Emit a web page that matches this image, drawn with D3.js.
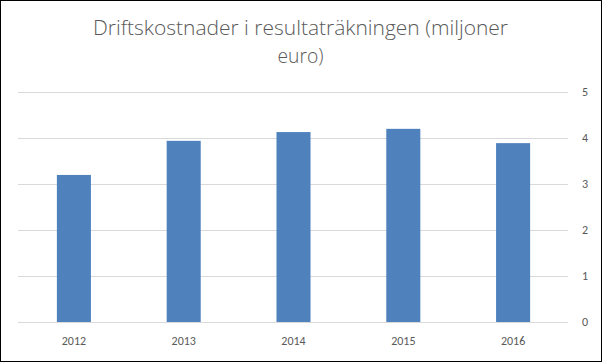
<!DOCTYPE html>
<html>
<head>
<meta charset="utf-8">
<script src="https://cdn.jsdelivr.net/npm/d3@7"></script>
<style>
  body { margin: 0; background: #fff; }
  svg { display: block; }
</style>
</head>
<body>
<div id="chart"></div>
<script>
const years = ["2012", "2013", "2014", "2015", "2016"];
const values = [3.19, 3.93, 4.12, 4.19, 3.88];
const yTicks = [0, 1, 2, 3, 4, 5];
const titleLines = ["Driftskostnader i resultaträkningen (miljoner", "euro)"];

const width = 603, height = 363;
const plot = { left: 19, right: 568, top: 91.5, bottom: 322 };

const svg = d3.select("#chart")
    .append("svg")
    .attr("width", width)
    .attr("height", height);

svg.append("rect")
    .attr("x", 0.5).attr("y", 0.5)
    .attr("width", width - 2).attr("height", height - 2)
    .attr("fill", "#fff")
    .attr("stroke", "#000")
    .attr("stroke-width", 1);

const x = d3.scaleBand()
    .domain(years)
    .range([plot.left, plot.right])
    .paddingInner(0.69)
    .paddingOuter(0.345);

const y = d3.scaleLinear()
    .domain([0, 5])
    .range([plot.bottom, plot.top]);

// gridlines
svg.append("g")
    .selectAll("line")
    .data(yTicks)
    .enter().append("line")
    .attr("x1", plot.left - 1)
    .attr("x2", plot.right)
    .attr("y1", d => Math.round(y(d)) + 0.5)
    .attr("y2", d => Math.round(y(d)) + 0.5)
    .attr("stroke", "#d9d9d9")
    .attr("stroke-width", 1);

// bars
svg.append("g")
    .selectAll("rect")
    .data(values)
    .enter().append("rect")
    .attr("x", (d, i) => x(years[i]))
    .attr("y", d => y(d))
    .attr("width", x.bandwidth())
    .attr("height", d => y(0) - y(d))
    .attr("fill", "#4f81bd");

// right value axis
const yAxis = svg.append("g")
    .attr("transform", `translate(${plot.right + 17},0)`)
    .call(d3.axisRight(y).tickValues(yTicks).tickFormat(d3.format("d")).tickSize(0).tickPadding(0));
yAxis.select(".domain").remove();
yAxis.selectAll("text")
    .attr("text-anchor", "middle")
    .attr("font-family", "Calibri, 'Open Sans', sans-serif")
    .attr("font-size", 12)
    .attr("fill", "#595959");

// category axis
const xAxis = svg.append("g")
    .attr("transform", `translate(0,${plot.bottom})`)
    .call(d3.axisBottom(x).tickSize(0).tickPadding(14));
xAxis.select(".domain").remove();
xAxis.selectAll("text")
    .attr("font-family", "Calibri, 'Open Sans', sans-serif")
    .attr("font-size", 12)
    .attr("fill", "#595959");

// title
svg.append("g")
    .selectAll("text")
    .data(titleLines)
    .enter().append("text")
    .attr("x", 300.5)
    .attr("y", (d, i) => 35 + i * 28)
    .attr("text-anchor", "middle")
    .attr("font-family", "'Calibri Light', 'Open Sans', sans-serif")
    .attr("font-weight", 300)
    .attr("font-size", 20)
    .attr("fill", "#595959")
    .attr("textLength", (d, i) => i === 0 ? 415 : 46)
    .attr("lengthAdjust", "spacingAndGlyphs")
    .text(d => d);
</script>
</body>
</html>
